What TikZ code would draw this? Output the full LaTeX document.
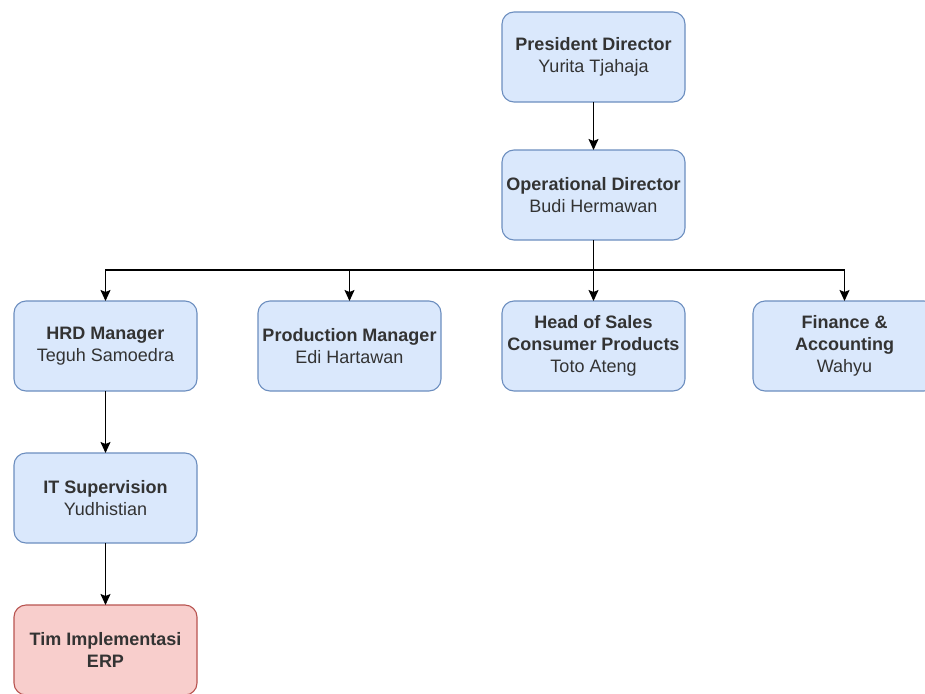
\documentclass[tikz,border=0pt]{standalone}
\usepackage{fontspec}
\setmainfont{Liberation Sans}
\usetikzlibrary{positioning,arrows.meta}
\definecolor{boxblue}{HTML}{DAE8FC}
\definecolor{lineblue}{HTML}{6C8EBF}
\definecolor{boxred}{HTML}{F8CECC}
\definecolor{linered}{HTML}{B85450}
\definecolor{txtgray}{HTML}{333333}

\begin{document}
\begin{tikzpicture}[
    x=1pt, y=1pt,
    node distance=61pt,
    every node/.style={rectangle, draw=lineblue, fill=boxblue, text=txtgray, align=center, rounded corners=12pt, minimum width=183pt, minimum height=90pt, outer sep=0pt, line width=1.1pt, font=\fontsize{18}{22}\selectfont},
    redbox/.style={draw=linered, fill=boxred},
    link/.style={-{Stealth[length=11pt,width=10pt,inset=2pt]}, line width=1.3pt}
]
\clip (0,0) rectangle (925,-693);

\node (pres) at (593.5,-57) {\textbf{President Director}\\Yurita Tjahaja};
\node[below=48pt of pres] (ops) {\textbf{Operational Director}\\Budi Hermawan};
\node[below=of ops] (sales) {\textbf{Head of Sales}\\\textbf{Consumer Products}\\Toto Ateng};
\node[left=of sales] (prod) {\textbf{Production Manager}\\Edi Hartawan};
\node[left=of prod] (hrd) {\textbf{HRD Manager}\\Teguh Samoedra};
\node[right=68pt of sales] (fin) {\textbf{Finance \&}\\\textbf{Accounting}\\Wahyu};
\node[below=62pt of hrd] (it) {\textbf{IT Supervision}\\Yudhistian};
\node[below=62pt of it, redbox] (tim) {\textbf{Tim Implementasi}\\\textbf{ERP}};

\draw[link] (pres) -- (ops);
\draw[link] (ops) -- (sales);
\draw[link] (ops.south) -- ++(0,-30) -| (hrd.north);
\draw[link] (ops.south) -- ++(0,-30) -| (prod.north);
\draw[link] (ops.south) -- ++(0,-30) -| (fin.north);
\draw[link] (hrd) -- (it);
\draw[link] (it) -- (tim);

\end{tikzpicture}
\end{document}
